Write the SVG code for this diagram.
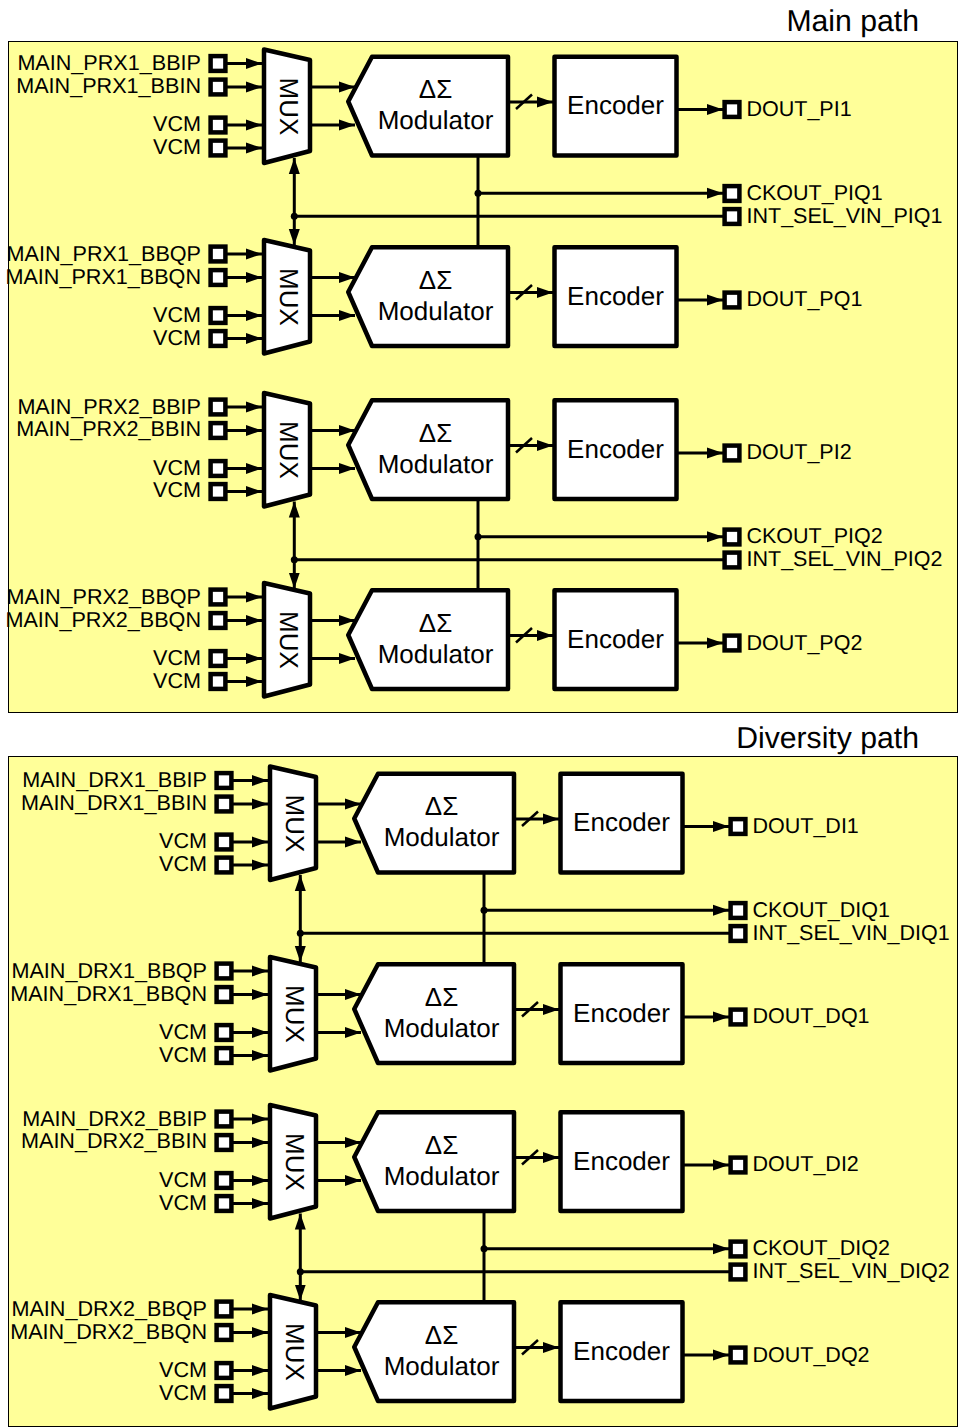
<svg xmlns="http://www.w3.org/2000/svg" width="958" height="1428" viewBox="0 0 958 1428">
<style>
.t{font-family:"Liberation Sans",Arial,sans-serif;fill:#000;text-rendering:geometricPrecision}
.l{font-size:21.6px;text-anchor:end}
.r{font-size:21.5px}
.b{font-size:26px;text-anchor:middle}
.h{font-size:30.2px;text-anchor:end}
.panel{fill:#ffff99;stroke:#000;stroke-width:1}
.box{fill:#fff;stroke:#000;stroke-width:4.5;stroke-linejoin:round}
.w{fill:none;stroke:#000;stroke-width:3}
.a{marker-end:url(#arr)}
.d{marker-start:url(#arrs);marker-end:url(#arr)}
.s{fill:none;stroke:#000;stroke-width:2.5}
</style>
<defs>
<marker id="arr" markerUnits="userSpaceOnUse" markerWidth="16" markerHeight="12" refX="16" refY="6" orient="auto"><path d="M0 .5L16 6L0 11.500Z" fill="#000"/></marker>
<marker id="arrs" markerUnits="userSpaceOnUse" markerWidth="16" markerHeight="12" refX="0" refY="6" orient="auto"><path d="M16 .5L0 6L16 11.500Z" fill="#000"/></marker>
<rect id="pad" x="-7.400" y="-7.400" width="14.800" height="14.800" fill="#fff" stroke="#000" stroke-width="4.500"/>
<g id="mux"><path class="box" d="M264 49.500L310 60V151L264 163Z"/><text class="t b" transform="translate(280,106.500) rotate(90)">MUX</text></g>
<g id="mod"><path class="box" d="M348.250 101.500L372 56.750H508V155.500H372Z"/><text class="t b" x="435.500" y="98">ΔΣ</text><text class="t b" x="435.500" y="129">Modulator</text></g>
<g id="enc"><rect class="box" x="554.500" y="56.750" width="122" height="98.750"/><text class="t b" x="615.500" y="114">Encoder</text></g>
<g id="wires">
<path class="w a" d="M227 63.500H262"/><path class="w a" d="M227 87H262"/><path class="w a" d="M227 125H262"/><path class="w a" d="M227 148H262"/>
<path class="w a" d="M311 87H355"/><path class="w a" d="M311 125H355"/>
<path class="w a" d="M510 102H553"/><path class="s" d="M516 109L532 94.500"/>
<path class="w a" d="M678 109.500H723"/>
</g>
<g id="pairwires">
<path class="w" d="M478 155.500V247"/>
<path class="w a" d="M478 193.300H723"/>
<path class="w" d="M294.300 216.300H723"/>
<path class="w d" d="M294.300 158V245"/>
<circle cx="478" cy="193.300" r="3.500"/>
<circle cx="294.300" cy="216.300" r="3.500"/>
</g>
</defs>
<rect id="main-panel" class="panel" x="8.500" y="41.500" width="949" height="671"/>
<rect id="diversity-panel" class="panel" x="8.500" y="756.500" width="949" height="670"/>
<text id="main-title" class="t h" x="919" y="31">Main path</text>
<text id="diversity-title" class="t h" x="919" y="748">Diversity path</text>
<g id="connectors">
<use href="#wires"/><use href="#wires" y="190.500"/><use href="#wires" y="343.500"/><use href="#wires" y="533.500"/>
<use href="#pairwires"/><use href="#pairwires" y="343.500"/>
<use href="#wires" x="6" y="717"/><use href="#wires" x="6" y="907.500"/><use href="#wires" x="6" y="1055.500"/><use href="#wires" x="6" y="1245.500"/>
<use href="#pairwires" x="6" y="717"/><use href="#pairwires" x="6" y="1055.500"/>
</g>
<g id="ch-pi1">
<use href="#mux"/><use href="#mod"/><use href="#enc"/>
<use href="#pad" x="218" y="63.500"/><use href="#pad" x="218" y="87"/><use href="#pad" x="218" y="125"/><use href="#pad" x="218" y="148"/><use href="#pad" x="732" y="109.500"/>
<text class="t l" x="201" y="70">MAIN_PRX1_BBIP</text><text class="t l" x="201" y="93">MAIN_PRX1_BBIN</text><text class="t l" x="201" y="131">VCM</text><text class="t l" x="201" y="154">VCM</text>
<text class="t r" x="746.500" y="115.500">DOUT_PI1</text></g>
<g id="ch-pq1" transform="translate(0,190.500)">
<use href="#mux"/><use href="#mod"/><use href="#enc"/>
<use href="#pad" x="218" y="63.500"/><use href="#pad" x="218" y="87"/><use href="#pad" x="218" y="125"/><use href="#pad" x="218" y="148"/><use href="#pad" x="732" y="109.500"/>
<text class="t l" x="201" y="70">MAIN_PRX1_BBQP</text><text class="t l" x="201" y="93">MAIN_PRX1_BBQN</text><text class="t l" x="201" y="131">VCM</text><text class="t l" x="201" y="154">VCM</text>
<text class="t r" x="746.500" y="115.500">DOUT_PQ1</text></g>
<g id="ch-pi2" transform="translate(0,343.500)">
<use href="#mux"/><use href="#mod"/><use href="#enc"/>
<use href="#pad" x="218" y="63.500"/><use href="#pad" x="218" y="87"/><use href="#pad" x="218" y="125"/><use href="#pad" x="218" y="148"/><use href="#pad" x="732" y="109.500"/>
<text class="t l" x="201" y="70">MAIN_PRX2_BBIP</text><text class="t l" x="201" y="92.500">MAIN_PRX2_BBIN</text><text class="t l" x="201" y="131">VCM</text><text class="t l" x="201" y="153.500">VCM</text>
<text class="t r" x="746.500" y="115.500">DOUT_PI2</text></g>
<g id="ch-pq2" transform="translate(0,533.500)">
<use href="#mux"/><use href="#mod"/><use href="#enc"/>
<use href="#pad" x="218" y="63.500"/><use href="#pad" x="218" y="87"/><use href="#pad" x="218" y="125"/><use href="#pad" x="218" y="148"/><use href="#pad" x="732" y="109.500"/>
<text class="t l" x="201" y="70">MAIN_PRX2_BBQP</text><text class="t l" x="201" y="93">MAIN_PRX2_BBQN</text><text class="t l" x="201" y="131">VCM</text><text class="t l" x="201" y="154">VCM</text>
<text class="t r" x="746.500" y="116">DOUT_PQ2</text></g>
<g id="out-piq1"><use href="#pad" x="732" y="193.500"/><use href="#pad" x="732" y="216.500"/><text class="t r" x="746.500" y="199.500">CKOUT_PIQ1</text><text class="t r" x="746.500" y="222.500">INT_SEL_VIN_PIQ1</text></g>
<g id="out-piq2" transform="translate(0,343.500)"><use href="#pad" x="732" y="193.500"/><use href="#pad" x="732" y="216.500"/><text class="t r" x="746.500" y="199.500">CKOUT_PIQ2</text><text class="t r" x="746.500" y="222.500">INT_SEL_VIN_PIQ2</text></g>
<g id="ch-di1" transform="translate(6,717)">
<use href="#mux"/><use href="#mod"/><use href="#enc"/>
<use href="#pad" x="218" y="63.500"/><use href="#pad" x="218" y="87"/><use href="#pad" x="218" y="125"/><use href="#pad" x="218" y="148"/><use href="#pad" x="732" y="109.500"/>
<text class="t l" x="201" y="70">MAIN_DRX1_BBIP</text><text class="t l" x="201" y="93">MAIN_DRX1_BBIN</text><text class="t l" x="201" y="131">VCM</text><text class="t l" x="201" y="154">VCM</text>
<text class="t r" x="746.500" y="115.500">DOUT_DI1</text></g>
<g id="ch-dq1" transform="translate(6,907.500)">
<use href="#mux"/><use href="#mod"/><use href="#enc"/>
<use href="#pad" x="218" y="63.500"/><use href="#pad" x="218" y="87"/><use href="#pad" x="218" y="125"/><use href="#pad" x="218" y="148"/><use href="#pad" x="732" y="109.500"/>
<text class="t l" x="201" y="70">MAIN_DRX1_BBQP</text><text class="t l" x="201" y="93">MAIN_DRX1_BBQN</text><text class="t l" x="201" y="131">VCM</text><text class="t l" x="201" y="154">VCM</text>
<text class="t r" x="746.500" y="115.500">DOUT_DQ1</text></g>
<g id="ch-di2" transform="translate(6,1055.500)">
<use href="#mux"/><use href="#mod"/><use href="#enc"/>
<use href="#pad" x="218" y="63.500"/><use href="#pad" x="218" y="87"/><use href="#pad" x="218" y="125"/><use href="#pad" x="218" y="148"/><use href="#pad" x="732" y="109.500"/>
<text class="t l" x="201" y="70">MAIN_DRX2_BBIP</text><text class="t l" x="201" y="92.500">MAIN_DRX2_BBIN</text><text class="t l" x="201" y="131">VCM</text><text class="t l" x="201" y="154">VCM</text>
<text class="t r" x="746.500" y="115.500">DOUT_DI2</text></g>
<g id="ch-dq2" transform="translate(6,1245.500)">
<use href="#mux"/><use href="#mod"/><use href="#enc"/>
<use href="#pad" x="218" y="63.500"/><use href="#pad" x="218" y="87"/><use href="#pad" x="218" y="125"/><use href="#pad" x="218" y="148"/><use href="#pad" x="732" y="109.500"/>
<text class="t l" x="201" y="70">MAIN_DRX2_BBQP</text><text class="t l" x="201" y="93">MAIN_DRX2_BBQN</text><text class="t l" x="201" y="131">VCM</text><text class="t l" x="201" y="154">VCM</text>
<text class="t r" x="746.500" y="116">DOUT_DQ2</text></g>
<g id="out-diq1" transform="translate(6,717)"><use href="#pad" x="732" y="193.500"/><use href="#pad" x="732" y="216.500"/><text class="t r" x="746.500" y="199.500">CKOUT_DIQ1</text><text class="t r" x="746.500" y="222.500">INT_SEL_VIN_DIQ1</text></g>
<g id="out-diq2" transform="translate(6,1055.500)"><use href="#pad" x="732" y="193.500"/><use href="#pad" x="732" y="216.500"/><text class="t r" x="746.500" y="199.500">CKOUT_DIQ2</text><text class="t r" x="746.500" y="222.500">INT_SEL_VIN_DIQ2</text></g>
</svg>
